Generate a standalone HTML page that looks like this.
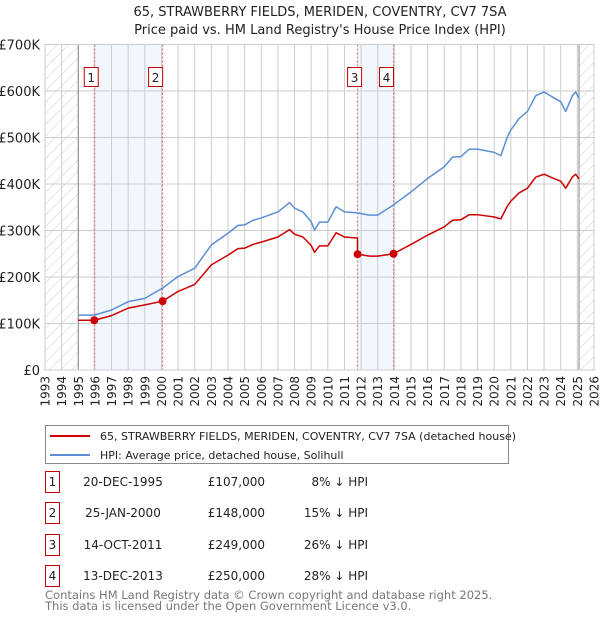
<!DOCTYPE html>
<html><head><meta charset="utf-8"><style>
body{margin:0;background:#fff;width:600px;height:620px;overflow:hidden;font-family:"DejaVu Sans","Liberation Sans",sans-serif;}
svg text{font-family:"DejaVu Sans","Liberation Sans",sans-serif;}
</style></head><body>
<svg id="chart" width="600" height="620" xmlns="http://www.w3.org/2000/svg">
<defs><pattern id="hatch" patternUnits="userSpaceOnUse" width="8" height="8" patternTransform="rotate(45)"><line x1="0" y1="0" x2="0" y2="8" stroke="#ccc" stroke-width="1"/></pattern></defs>
<text x="320" y="16" font-size="13" text-anchor="middle" fill="#222">65, STRAWBERRY FIELDS, MERIDEN, COVENTRY, CV7 7SA</text>
<text x="320" y="34" font-size="13" text-anchor="middle" fill="#222">Price paid vs. HM Land Registry's House Price Index (HPI)</text>
<g id="plot"></g>
<g>
<rect x="45.5" y="425.5" width="463" height="38" fill="#fff" stroke="#888"/>
<line x1="50" y1="436" x2="90" y2="436" stroke="#cc0000" stroke-width="2"/>
<text x="100" y="440" font-size="11" fill="#222">65, STRAWBERRY FIELDS, MERIDEN, COVENTRY, CV7 7SA (detached house)</text>
<line x1="50" y1="455" x2="90" y2="455" stroke="#5b8fd4" stroke-width="2"/>
<text x="100" y="459" font-size="11" fill="#222">HPI: Average price, detached house, Solihull</text>
</g>
<g id="table"></g>
<text x="45" y="599" font-size="11.5" fill="#777">Contains HM Land Registry data © Crown copyright and database right 2025.</text>
<text x="45" y="610" font-size="11.5" fill="#777">This data is licensed under the Open Government Licence v3.0.</text>
</svg>
<script>
const hpiYears=[1995.0,1995.96,1997,1998,1999,2000.07,2001,2002,2003,2004,2004.6,2005,2005.5,2006,2007,2007.7,2008,2008.5,2009,2009.2,2009.5,2010,2010.5,2011,2011.79,2012.5,2013,2013.95,2015,2016,2017,2017.5,2018,2018.5,2019,2020,2020.4,2020.8,2021,2021.5,2022,2022.5,2023,2023.5,2024,2024.3,2024.7,2024.9,2025.1];
const hpiValues=[118,118,129,147,154,176,201,219,269,294,311,312,322,327,340,360,348,340,319,301,318,318,351,340,338,333,333,355,383,412,437,458,459,475,475,468,461,502,516,541,556,590,598,587,577,556,590,598,584];
const priceYears=[1995.0,1995.96,1997,1998,1999,2000.07,2001,2002,2003,2004,2004.6,2005,2005.5,2006,2007,2007.7,2008,2008.5,2009,2009.2,2009.5,2010,2010.5,2011,2011.78,2011.79,2012.5,2013,2013.95,2015,2016,2017,2017.5,2018,2018.5,2019,2020,2020.4,2020.8,2021,2021.5,2022,2022.5,2023,2023.5,2024,2024.3,2024.7,2024.9,2025.1];
const priceValues=[107,107,117,133,140,148,169,184,226,247,261,262,270,275,286,302,292,286,268,253,267,267,295,286,284,249,245,245,250,270,290,308,322,323,334,334,329,325,353,363,381,391,415,421,413,406,391,415,421,411];
const saleLabels=["1","2","3","4"];
const saleYears=[1995.96,2000.07,2011.79,2013.95];
const salePrices=[107,148,249,250];
const saleDates=["20-DEC-1995","25-JAN-2000","14-OCT-2011","13-DEC-2013"];
const salePriceText=["£107,000","£148,000","£249,000","£250,000"];
const saleDiffText=["8% ↓ HPI","15% ↓ HPI","26% ↓ HPI","28% ↓ HPI"];
const yTicks=[0,100,200,300,400,500,600,700];
const yTickLabels=["£0","£100K","£200K","£300K","£400K","£500K","£600K","£700K"];
const xStart=1993,xEnd=2026,dataEnd=2025.1;

const NS="http://www.w3.org/2000/svg";
const L=45,R=594,T=44.5,B=370;
function X(y){return L+(y-xStart)*(R-L)/(xEnd-xStart);}
function Y(v){return B-v*(B-T)/700;}
const plot=document.getElementById('plot');
function mk(tag,attrs,parent){const e=document.createElementNS(NS,tag);for(const k in attrs)e.setAttribute(k,attrs[k]);(parent||plot).appendChild(e);return e;}

let e;
e=mk('rect',{x:L,y:T,width:R-L,height:B-T,fill:'#fff'});


for(let i=0;i<4;i+=2){
 e=mk('rect',{x:X(saleYears[i]),y:T,width:X(saleYears[i+1])-X(saleYears[i]),height:B-T,fill:'#f2f6fd'});
 
 
}
e=mk('rect',{x:L,y:T,width:X(1995)-L,height:B-T,fill:'url(#hatch)'});


e=mk('rect',{x:X(dataEnd),y:T,width:R-X(dataEnd),height:B-T,fill:'url(#hatch)'});


for(let yr=xStart;yr<=xEnd;yr++){
 e=mk('line',{x1:X(yr),x2:X(yr),y1:T,y2:B,stroke:'#ccc','stroke-width':1});
 
 
 e=mk('text',{x:0,y:0,'font-size':12,fill:'#222','text-anchor':'end',transform:`translate(${X(yr)+4.5},${B+6}) rotate(-90)`});
 e.textContent=yr;
 
 
}
yTicks.forEach((v,i)=>{
 e=mk('line',{x1:L,x2:R,y1:Y(v),y2:Y(v),stroke:'#ccc','stroke-width':1});
 
 
 e=mk('text',{x:40,y:Y(v)+5,'font-size':13,fill:'#222','text-anchor':'end'});
 e.textContent=yTickLabels[i];
 
 
});
e=mk('line',{x1:X(1995),x2:X(1995),y1:T,y2:B,stroke:'#888','stroke-width':1});


e=mk('line',{x1:X(dataEnd),x2:X(dataEnd),y1:T,y2:B,stroke:'#888','stroke-width':1});


saleYears.forEach((s,i)=>{
 e=mk('line',{x1:X(s),x2:X(s),y1:T,y2:B,stroke:'#e06060','stroke-width':1,'stroke-dasharray':'2,2'});
 
 
 e=mk('rect',{x:X(s)-(i%2==0?10:14),y:67.5,width:14,height:19,fill:'#fff',stroke:'#c00000'});
 
 
 e=mk('text',{x:X(s)-(i%2==0?3:7),y:82,'font-size':12,'text-anchor':'middle',fill:'#222'});
 e.textContent=saleLabels[i];
 
 
});
e=mk('polyline',{points:hpiYears.map((y,i)=>X(y)+','+Y(hpiValues[i])).join(' '),fill:'none',stroke:'#5b8fd4','stroke-width':1.5,'stroke-linejoin':'round'});


e=mk('polyline',{points:priceYears.map((y,i)=>X(y)+','+Y(priceValues[i])).join(' '),fill:'none',stroke:'#cc0000','stroke-width':1.5,'stroke-linejoin':'round'});


saleYears.forEach((s,i)=>{
 e=mk('circle',{cx:X(s),cy:Y(salePrices[i]),r:4,fill:'#cc0000'});
 
 
});
e=mk('rect',{x:L,y:T,width:R-L,height:B-T,fill:'none',stroke:'#ccc'});


const tb=document.getElementById('table');
const rowY=[482,513,545,576];
saleLabels.forEach((l,i)=>{
 const y=rowY[i];
 e=mk('rect',{x:45.5,y:y-10.5,width:14,height:21,fill:'#fff',stroke:'#c00000'},tb);
 
 
 e=mk('text',{x:52.5,y:y+4,'font-size':12,'text-anchor':'middle',fill:'#222'},tb);
 e.textContent=l;
 
 
 e=mk('text',{x:123,y:y+4,'font-size':12,'text-anchor':'middle',fill:'#222'},tb);
 e.textContent=saleDates[i];
 
 
 e=mk('text',{x:265,y:y+4,'font-size':12,'text-anchor':'end',fill:'#222'},tb);
 e.textContent=salePriceText[i];
 
 
 e=mk('text',{x:368,y:y+4,'font-size':12,'text-anchor':'end',fill:'#222'},tb);
 e.textContent=saleDiffText[i];
 
 
});
</script>
</body></html>
